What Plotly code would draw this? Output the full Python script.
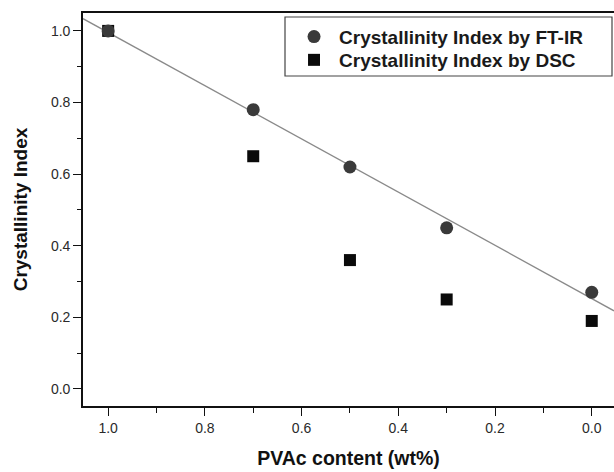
import numpy as np
import plotly.graph_objects as go

# PVAc content (wt%) and crystallinity index from the two methods
pvac_content = [1.0, 0.7, 0.5, 0.3, 0.0]
ci_ftir = [1.00, 0.78, 0.62, 0.45, 0.27]
ci_dsc = [1.00, 0.65, 0.36, 0.25, 0.19]

x_range = [1.052, -0.046]
y_range = [-0.0475, 1.05]

# Linear fit through the FT-IR points, drawn across the whole x range
slope, intercept = np.polyfit(pvac_content, ci_ftir, 1)
fit_x = np.array(x_range)
fit_y = intercept + slope * fit_x

font_family = "Arial, Liberation Sans, sans-serif"
legend_font = dict(family=font_family, size=19, color="#1a1a1a", weight="bold")

fig = go.Figure()

fig.add_trace(go.Scatter(
    x=fit_x, y=fit_y, mode="lines",
    line=dict(color="#8a8a8a", width=1.3),
    showlegend=False, hoverinfo="skip",
))

fig.add_trace(go.Scatter(
    x=pvac_content, y=ci_dsc, mode="markers",
    name="Crystallinity Index by DSC", legend="legend2",
    marker=dict(symbol="square", size=12, color="#0a0a0a"),
))

fig.add_trace(go.Scatter(
    x=pvac_content, y=ci_ftir, mode="markers",
    name="Crystallinity Index by FT-IR", legend="legend",
    marker=dict(symbol="circle", size=13, color="#3a3a3a"),
))

axis_common = dict(
    showline=True, linecolor="#111111", linewidth=1.6,
    ticks="outside", ticklen=8, tickwidth=1.4, tickcolor="#111111",
    showgrid=False, zeroline=False,
    tickfont=dict(family=font_family, size=14, color="#2a2a2a"),
)

# Plot area in pixels: left 83, top 13, width 531, height 393
def paper_y(py):
    return 1 - (py - 13) / 393

legend_common = dict(
    x=0.388, xanchor="left", yanchor="middle",
    bgcolor="rgba(0,0,0,0)", borderwidth=0,
    itemwidth=40, font=legend_font,
)

fig.update_layout(
    width=614, height=472,
    margin=dict(l=83, r=0, t=13, b=66),
    paper_bgcolor="white", plot_bgcolor="white",
    font=dict(family=font_family),
    xaxis=dict(
        range=x_range, tickmode="array",
        tickvals=[1.0, 0.8, 0.6, 0.4, 0.2, 0.0],
        ticktext=["1.0", "0.8", "0.6", "0.4", "0.2", "0.0"],
        minor=dict(tickvals=[0.9, 0.7, 0.5, 0.3, 0.1], ticklen=5,
                   tickwidth=1.2, tickcolor="#111111", ticks="outside"),
        mirror=True,
        title=dict(text="PVAc content (wt%)", standoff=17,
                   font=dict(family=font_family, size=19.5, color="#111111",
                             weight="bold")),
        **axis_common,
    ),
    yaxis=dict(
        range=y_range, tickmode="array",
        tickvals=[0.0, 0.2, 0.4, 0.6, 0.8, 1.0],
        ticktext=["0.0", "0.2", "0.4", "0.6", "0.8", "1.0"],
        minor=dict(tickvals=[0.1, 0.3, 0.5, 0.7, 0.9], ticklen=4,
                   tickwidth=1.2, tickcolor="#111111", ticks="outside"),
        title=dict(text="Crystallinity Index", standoff=18,
                   font=dict(family=font_family, size=19, color="#111111",
                             weight="bold")),
        **axis_common,
    ),
    legend=dict(y=paper_y(36.7), **legend_common),
    legend2=dict(y=paper_y(60.0), **legend_common),
    shapes=[dict(
        type="rect", xref="paper", yref="paper",
        x0=(285 - 83) / 531, x1=(612 - 83) / 531,
        y0=paper_y(76), y1=paper_y(17),
        line=dict(color="#444444", width=1.2), fillcolor="rgba(0,0,0,0)",
    )],
)

fig.write_html("out.html")
